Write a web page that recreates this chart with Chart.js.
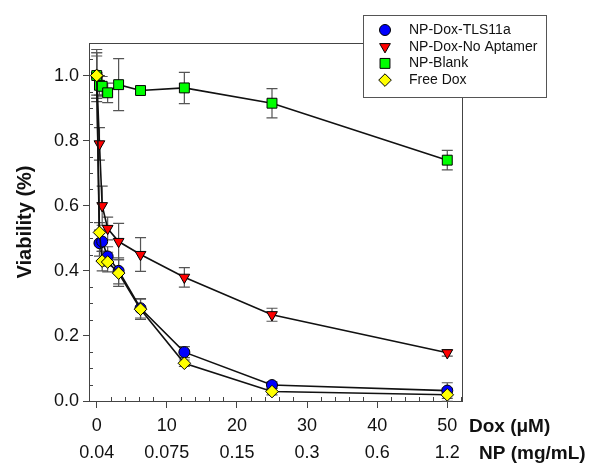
<!DOCTYPE html>
<html>
<head>
<meta charset="utf-8">
<script src="https://cdn.jsdelivr.net/npm/chart.js@4.4.0/dist/chart.umd.min.js"></script>
<style>
  html, body { margin: 0; padding: 0; background: #fff; }
  #wrap { width: 599px; height: 464px; position: relative; }
</style>
</head>
<body>
<div id="wrap"><canvas id="viabilityChart"></canvas></div>
<script>
// Dox concentration (uM) of each well, and the second row of tick labels (NP mg/mL)
var doxConc = [0, 0.39, 0.78, 1.56, 3.125, 6.25, 12.5, 25, 50];
var doxTicks = [0, 10, 20, 30, 40, 50];
var npTickLabels = ['0.04', '0.075', '0.15', '0.3', '0.6', '1.2'];

// viability, with error bar half-heights
var tlsViability = [1.0, 0.485, 0.49, 0.444, 0.40, 0.285, 0.15, 0.049, 0.032];
var tlsError = [0.07, 0.04, 0.03, 0.03, 0.04, 0.03, 0.017, 0.01, 0.024];
var noAptViability = [1.0, 0.79, 0.60, 0.53, 0.49, 0.45, 0.38, 0.265, 0.148];
var noAptError = [0.06, 0.05, 0.06, 0.035, 0.056, 0.052, 0.03, 0.02, 0.01];
var blankViability = [1.0, 0.97, 0.967, 0.947, 0.972, 0.954, 0.962, 0.915, 0.74];
var blankError = [0.08, 0.03, 0.03, 0.03, 0.08, 0.01, 0.048, 0.045, 0.03];
var freeDoxViability = [1.0, 0.518, 0.43, 0.427, 0.393, 0.282, 0.116, 0.029, 0.019];
var freeDoxError = [0.07, 0.03, 0.03, 0.03, 0.041, 0.031, 0.01, 0.01, 0.02];

function toPoints(ys) {
    return ys.map(function(y, i) { return { x: doxConc[i], y: y }; });
}

var fontFamily = "'Liberation Sans', Arial, sans-serif";

var errorBars = {
    id: 'errorBars',
    beforeDatasetsDraw: function(chart) {
        var ctx = chart.ctx, xs = chart.scales.x, ys = chart.scales.y;
        ctx.save();
        ctx.strokeStyle = '#555';
        ctx.lineWidth = 1.2;
        chart.data.datasets.forEach(function(ds) {
            ds.data.forEach(function(p, i) {
                var e = ds.errors[i];
                var px = xs.getPixelForValue(p.x);
                var top = ys.getPixelForValue(p.y + e);
                var bot = ys.getPixelForValue(p.y - e);
                ctx.beginPath();
                ctx.moveTo(px, top); ctx.lineTo(px, bot);
                ctx.moveTo(px - 5.5, top); ctx.lineTo(px + 5.5, top);
                ctx.moveTo(px - 5.5, bot); ctx.lineTo(px + 5.5, bot);
                ctx.stroke();
            });
        });
        ctx.restore();
    }
};

var frameAndTicks = {
    id: 'frameAndTicks',
    beforeDatasetsDraw: function(chart) {
        var ctx = chart.ctx, a = chart.chartArea, xs = chart.scales.x, ys = chart.scales.y;
        ctx.save();
        ctx.strokeStyle = '#444';
        ctx.lineWidth = 1;
        ctx.beginPath();
        ctx.moveTo(a.left, a.top + 0.5); ctx.lineTo(a.right + 0.5, a.top + 0.5);
        ctx.lineTo(a.right + 0.5, a.bottom);
        // minor ticks, pointing inward
        for (var v = 2; v <= 52; v += 2) {
            if (v % 10 === 0) continue;
            var px = Math.round(xs.getPixelForValue(v)) + 0.5;
            ctx.moveTo(px, a.bottom); ctx.lineTo(px, a.bottom - 4);
        }
        for (var k = 1; k <= 21; k++) {
            if (k % 4 === 0) continue;
            var py = Math.round(ys.getPixelForValue(k * 0.05)) + 0.5;
            ctx.moveTo(a.left, py); ctx.lineTo(a.left + 4, py);
        }
        ctx.stroke();
        ctx.restore();
    },
    afterDraw: function(chart) {
        var ctx = chart.ctx;
        ctx.save();
        ctx.fillStyle = '#111';
        ctx.font = 'bold 19px ' + fontFamily;
        ctx.textBaseline = 'middle';
        ctx.textAlign = 'left';
        ctx.fillText('Dox (\u03bcM)', 469, 427);
        ctx.fillText('NP (mg/mL)', 479, 454);
        ctx.restore();
    }
};

var boxLegend = {
    id: 'boxLegend',
    afterDraw: function(chart) {
        var ctx = chart.ctx;
        ctx.save();
        ctx.fillStyle = '#fff';
        ctx.fillRect(363, 15, 183, 82);
        ctx.strokeStyle = '#555';
        ctx.lineWidth = 1;
        ctx.strokeRect(363.5, 15.5, 183, 82);
        chart.data.datasets.forEach(function(ds, i) {
            var y = 30 + i * 16.7;
            ctx.fillStyle = ds.pointBackgroundColor;
            ctx.strokeStyle = '#000';
            ctx.lineWidth = 1;
            Chart.helpers.drawPoint(ctx, {
                pointStyle: ds.pointStyle,
                radius: ds.pointRadius,
                rotation: ds.pointRotation || 0,
                borderWidth: 1
            }, 385, y);
            ctx.fillStyle = '#111';
            ctx.font = '14px ' + fontFamily;
            ctx.textBaseline = 'middle';
            ctx.fillText(ds.label, 409, y);
        });
        ctx.restore();
    }
};

function series(label, ys, errs, color, style, radius, rotation, order) {
    return {
        label: label,
        data: toPoints(ys),
        errors: errs,
        showLine: true,
        borderColor: '#111',
        borderWidth: 1.6,
        pointStyle: style,
        pointRadius: radius,
        pointRotation: rotation,
        pointBackgroundColor: color,
        pointBorderColor: '#000',
        pointBorderWidth: 1,
        order: order
    };
}

var ctx = document.getElementById('viabilityChart').getContext('2d');
var viabilityChart = new Chart(ctx, {
    type: 'scatter',
    data: {
        datasets: [
            series('NP-Dox-TLS11a', tlsViability, tlsError, '#0000ff', 'circle', 5.5, 0, 4),
            series('NP-Dox-No Aptamer', noAptViability, noAptError, '#ff0000', 'triangle', 6.2, 180, 3),
            series('NP-Blank', blankViability, blankError, '#00ff00', 'rect', 7, 0, 2),
            series('Free Dox', freeDoxViability, freeDoxError, '#ffff00', 'rectRot', 6.3, 0, 1)
        ]
    },
    options: {
        responsive: true,
        maintainAspectRatio: false,
        animation: false,
        layout: { padding: { top: 43, right: 137, left: 0, bottom: 0 } },
        scales: {
            x: {
                type: 'linear',
                min: -1.1,
                max: 52.1,
                afterFit: function(s) { s.height = 63; },
                border: { color: '#444', width: 1 },
                grid: { drawOnChartArea: false, tickLength: 7, color: '#444' },
                ticks: {
                    stepSize: 10,
                    includeBounds: false,
                    maxRotation: 0,
                    autoSkip: false,
                    padding: 5,
                    color: '#111',
                    font: { family: fontFamily, size: 18, lineHeight: 1.5 },
                    callback: function(v) {
                        var i = doxTicks.indexOf(v);
                        return i < 0 ? '' : [String(v), npTickLabels[i]];
                    }
                }
            },
            y: {
                min: 0,
                max: 1.1,
                afterFit: function(s) { s.width = 89; },
                border: { color: '#444', width: 1 },
                grid: { drawOnChartArea: false, tickLength: 6, color: '#444' },
                ticks: {
                    stepSize: 0.2,
                    includeBounds: false,
                    padding: 4,
                    color: '#111',
                    font: { family: fontFamily, size: 18 },
                    callback: function(v) { return v.toFixed(1); }
                },
                title: {
                    display: true,
                    text: 'Viability (%)',
                    color: '#111',
                    padding: { top: 13, bottom: 0 },
                    font: { family: fontFamily, size: 20, weight: 'bold' }
                }
            }
        },
        plugins: {
            legend: { display: false },
            tooltip: { enabled: false }
        }
    },
    plugins: [frameAndTicks, errorBars, boxLegend]
});
</script>
</body>
</html>
